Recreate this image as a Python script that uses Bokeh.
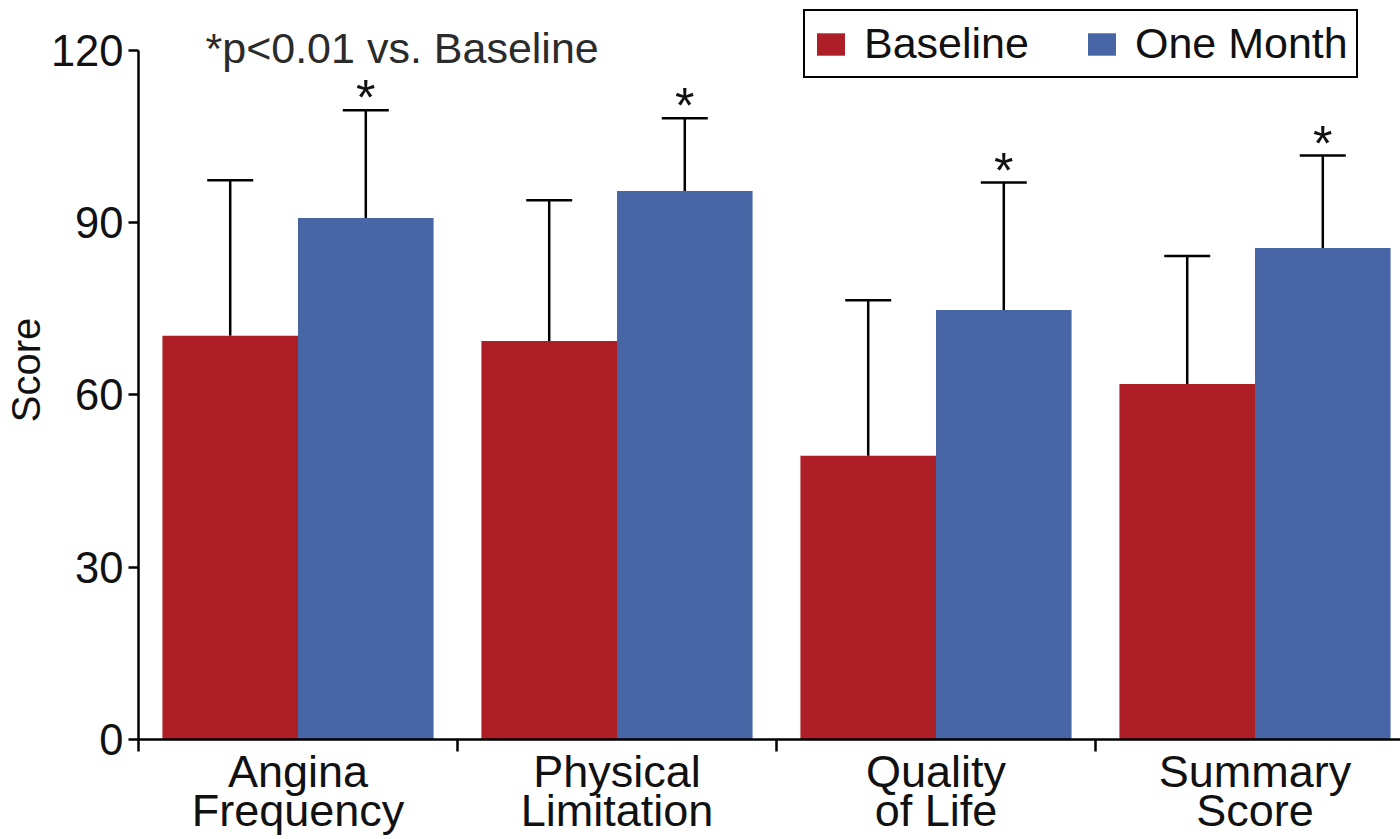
from bokeh.plotting import figure
from bokeh.models import (ColumnDataSource, Range1d, FixedTicker, Legend, LegendItem,
                          Label, Whisker, TeeHead)
from bokeh.embed import file_html
from bokeh.resources import INLINE
from bokeh.core.properties import value

# ---- data ----
categories = ["Angina\nFrequency", "Physical\nLimitation", "Quality\nof Life", "Summary\nScore"]
baseline = [70.3, 69.4, 49.4, 61.9]
baseline_sd = [27.1, 24.5, 27.1, 22.3]
one_month = [90.8, 95.5, 74.8, 85.6]
one_month_sd = [18.8, 12.7, 22.2, 16.1]
significance = ["*", "*", "*", "*"]
y_ticks = [0, 30, 60, 90, 120]
series_names = ["Baseline", "One Month"]
note_text = "*p<0.01 vs. Baseline"
y_label = "Score"

RED = "#AE1E27"
BLUE = "#4865A6"
FONT = "Liberation Sans"

centers = [i + 0.5 for i in range(len(categories))]
bw = 0.425

src_b = ColumnDataSource(dict(
    x=[c - bw / 2 for c in centers], top=baseline,
    upper=[v + s for v, s in zip(baseline, baseline_sd)]))
src_m = ColumnDataSource(dict(
    x=[c + bw / 2 for c in centers], top=one_month,
    upper=[v + s for v, s in zip(one_month, one_month_sd)],
    sig=significance))

FRAME_LEFT = 138.0
FRAME_H = 740.0
PX_PER_UNIT = 690.0 / 120.0
PX_PER_CAT = 319.0

p = figure(width=1400, height=839, x_range=Range1d(0, (1400 - FRAME_LEFT) / PX_PER_CAT),
           y_range=Range1d(0, FRAME_H / PX_PER_UNIT),
           output_backend="svg", toolbar_location=None,
           min_border_left=int(FRAME_LEFT), min_border_right=0, min_border_top=0,
           min_border_bottom=99)
p.outline_line_color = None
p.grid.visible = False
p.background_fill_color = "white"
p.border_fill_color = "white"

# error bars (drawn first, under the bars)
for src in (src_b, src_m):
    wk = Whisker(source=src, base="x", lower="top", upper="upper", dimension="height",
                 line_color="black", line_width=2.5,
                 upper_head=TeeHead(size=46, line_color="black", line_width=2.5),
                 lower_head=None, level="underlay")
    p.add_layout(wk)

r1 = p.vbar(x="x", top="top", bottom=0, width=bw, source=src_b,
            fill_color=RED, line_color=None)
r2 = p.vbar(x="x", top="top", bottom=0, width=bw, source=src_m,
            fill_color=BLUE, line_color=None)

p.text(x="x", y="upper", text="sig", source=src_m, text_align="center",
       text_baseline="alphabetic", y_offset=-12, text_font=value(FONT),
       text_font_size="50px", text_color="#111111")

# y axis
ya = p.yaxis[0]
ya.ticker = FixedTicker(ticks=y_ticks)
ya.bounds = (0, 120)
ya.axis_line_width = 2.5
ya.major_tick_line_width = 2.5
ya.major_tick_out = 10
ya.major_tick_in = 0
ya.minor_tick_line_color = None
ya.major_label_text_font = FONT
ya.major_label_text_font_size = "43.5px"
ya.major_label_text_color = "#111111"
ya.major_label_standoff = 5
ya.axis_label = y_label
ya.axis_label_text_font = FONT
ya.axis_label_text_font_size = "40px"
ya.axis_label_text_font_style = "normal"
ya.axis_label_text_color = "#111111"
ya.axis_label_standoff = 0

# x axis
xa = p.xaxis[0]
xa.ticker = FixedTicker(ticks=centers, minor_ticks=[0, 1, 2, 3])
xa.major_label_overrides = {c: lab for c, lab in zip(centers, categories)}
xa.axis_line_width = 2.5
xa.major_tick_line_color = None
xa.major_tick_out = 0
xa.major_tick_in = 0
xa.minor_tick_line_width = 2.5
xa.minor_tick_out = 12
xa.minor_tick_in = 0
xa.major_label_text_font = FONT
xa.major_label_text_font_size = "45px"
xa.major_label_text_color = "#111111"
xa.major_label_text_line_height = 0.78
xa.major_label_standoff = -6

# significance note
p.add_layout(Label(x=(205 - FRAME_LEFT) / PX_PER_CAT, y=120.5, text=note_text,
                   text_align="left", text_baseline="alphabetic", text_font=FONT,
                   text_font_size="43px", text_color="#2b2b2b"))

legend = Legend(items=[LegendItem(label=series_names[0], renderers=[r1]),
                       LegendItem(label=series_names[1], renderers=[r2])],
                orientation="horizontal", location=(803 - FRAME_LEFT, 661),
                border_line_color="black", border_line_width=2.5, border_line_alpha=1.0,
                padding=8, spacing=55, label_standoff=16,
                glyph_width=35, glyph_height=28,
                label_text_font=FONT, label_text_font_size="43px",
                label_text_color="#111111", background_fill_alpha=1.0)
p.add_layout(legend)

open("out.html", "w").write(file_html(p, INLINE))
